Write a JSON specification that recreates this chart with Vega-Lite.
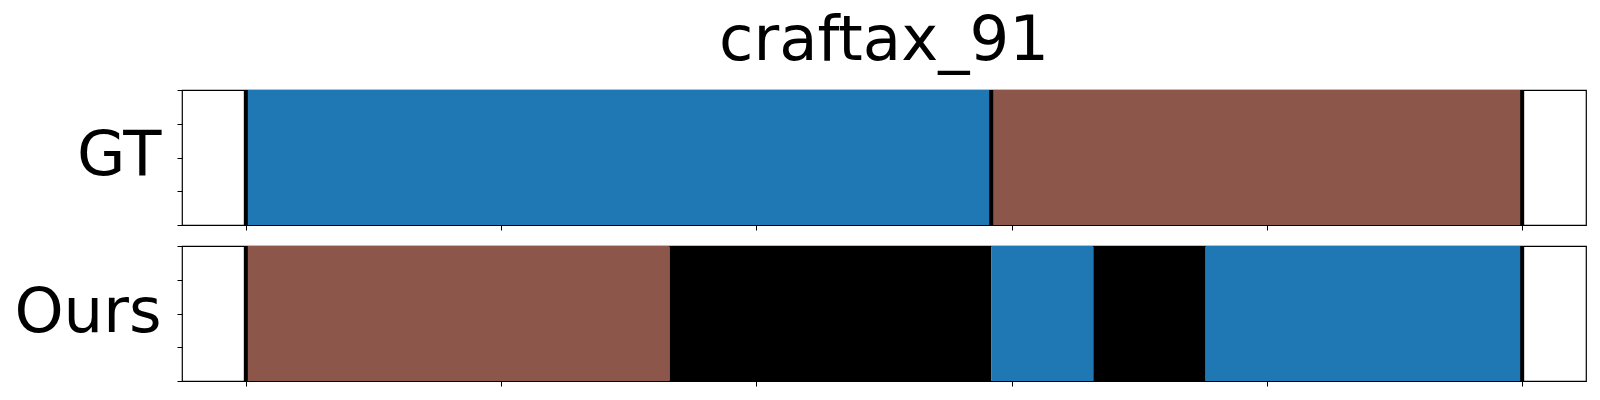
{
  "$schema": "https://vega.github.io/schema/vega-lite/v6.json",
  "padding": {"left": 13, "top": 10, "right": 14, "bottom": 10},
  "background": "white",
  "title": {"text": "craftax_91", "font": "DejaVu Sans", "fontSize": 62.5, "fontWeight": "normal", "color": "black", "anchor": "middle", "frame": "group", "offset": 13},
  "datasets": {
    "segments": [
      {"panel": "GT", "start": 0, "end": 146, "label": "blue"},
      {"panel": "GT", "start": 146, "end": 250, "label": "brown"},
      {"panel": "Ours", "start": 0, "end": 83, "label": "brown"},
      {"panel": "Ours", "start": 83, "end": 146, "label": "black"},
      {"panel": "Ours", "start": 146, "end": 166, "label": "blue"},
      {"panel": "Ours", "start": 166, "end": 188, "label": "black"},
      {"panel": "Ours", "start": 188, "end": 250, "label": "blue"}
    ],
    "bounds": [
      {"panel": "GT", "x": 0},
      {"panel": "GT", "x": 146},
      {"panel": "GT", "x": 250},
      {"panel": "Ours", "x": 0},
      {"panel": "Ours", "x": 250}
    ]
  },
  "spacing": 10,
  "vconcat": [
    {
      "width": 1404,
      "height": 135,
      "layer": [
        {
          "data": {"name": "segments"},
          "transform": [{"filter": "datum.panel === 'GT'"}],
          "mark": {"type": "rect"},
          "encoding": {
            "x": {"field": "start", "type": "quantitative", "scale": {"domain": [-12.5, 262.5], "nice": false, "zero": false},
                  "axis": {"values": [0, 50, 100, 150, 200, 250], "labels": false, "title": null, "grid": false, "domain": false, "tickSize": 5, "tickColor": "black", "tickWidth": 1}},
            "x2": {"field": "end"},
            "color": {"field": "label", "type": "nominal", "scale": {"domain": ["blue", "brown", "black"], "range": ["#1f77b4", "#8c564b", "#000000"]}, "legend": null}
          }
        },
        {
          "data": {"name": "bounds"},
          "transform": [{"filter": "datum.panel === 'GT'"}],
          "mark": {"type": "rule", "color": "black", "strokeWidth": 4},
          "encoding": {
            "x": {"field": "x", "type": "quantitative"}
          }
        },
        {
          "data": {"values": [{"v": 0}, {"v": 1}]},
          "mark": {"type": "point", "opacity": 0},
          "encoding": {
            "y": {"field": "v", "type": "quantitative", "scale": {"domain": [0, 1], "nice": false},
                  "axis": {"values": [0, 0.25, 0.5, 0.75, 1], "labels": false, "grid": false, "domain": false, "tickSize": 5, "tickColor": "black", "tickWidth": 1,
                           "title": "GT", "titleAngle": 0, "titleAlign": "right", "titleBaseline": "alphabetic", "titleX": -21, "titleY": 84, "titleFont": "DejaVu Sans", "titleFontSize": 62.5, "titleFontWeight": "normal", "titleColor": "black"}}
          }
        }
      ]
    },
    {
      "width": 1404,
      "height": 135,
      "layer": [
        {
          "data": {"name": "segments"},
          "transform": [{"filter": "datum.panel === 'Ours'"}],
          "mark": {"type": "rect"},
          "encoding": {
            "x": {"field": "start", "type": "quantitative", "scale": {"domain": [-12.5, 262.5], "nice": false, "zero": false},
                  "axis": {"values": [0, 50, 100, 150, 200, 250], "labels": false, "title": null, "grid": false, "domain": false, "tickSize": 5, "tickColor": "black", "tickWidth": 1}},
            "x2": {"field": "end"},
            "color": {"field": "label", "type": "nominal", "scale": {"domain": ["blue", "brown", "black"], "range": ["#1f77b4", "#8c564b", "#000000"]}, "legend": null}
          }
        },
        {
          "data": {"name": "bounds"},
          "transform": [{"filter": "datum.panel === 'Ours'"}],
          "mark": {"type": "rule", "color": "black", "strokeWidth": 4},
          "encoding": {
            "x": {"field": "x", "type": "quantitative"}
          }
        },
        {
          "data": {"values": [{"v": 0}, {"v": 1}]},
          "mark": {"type": "point", "opacity": 0},
          "encoding": {
            "y": {"field": "v", "type": "quantitative", "scale": {"domain": [0, 1], "nice": false},
                  "axis": {"values": [0, 0.25, 0.5, 0.75, 1], "labels": false, "grid": false, "domain": false, "tickSize": 5, "tickColor": "black", "tickWidth": 1,
                           "title": "Ours", "titleAngle": 0, "titleAlign": "right", "titleBaseline": "alphabetic", "titleX": -21, "titleY": 85, "titleFont": "DejaVu Sans", "titleFontSize": 62.5, "titleFontWeight": "normal", "titleColor": "black"}}
          }
        }
      ]
    }
  ],
  "config": {
    "view": {"stroke": "black", "strokeWidth": 1.2}
  }
}
